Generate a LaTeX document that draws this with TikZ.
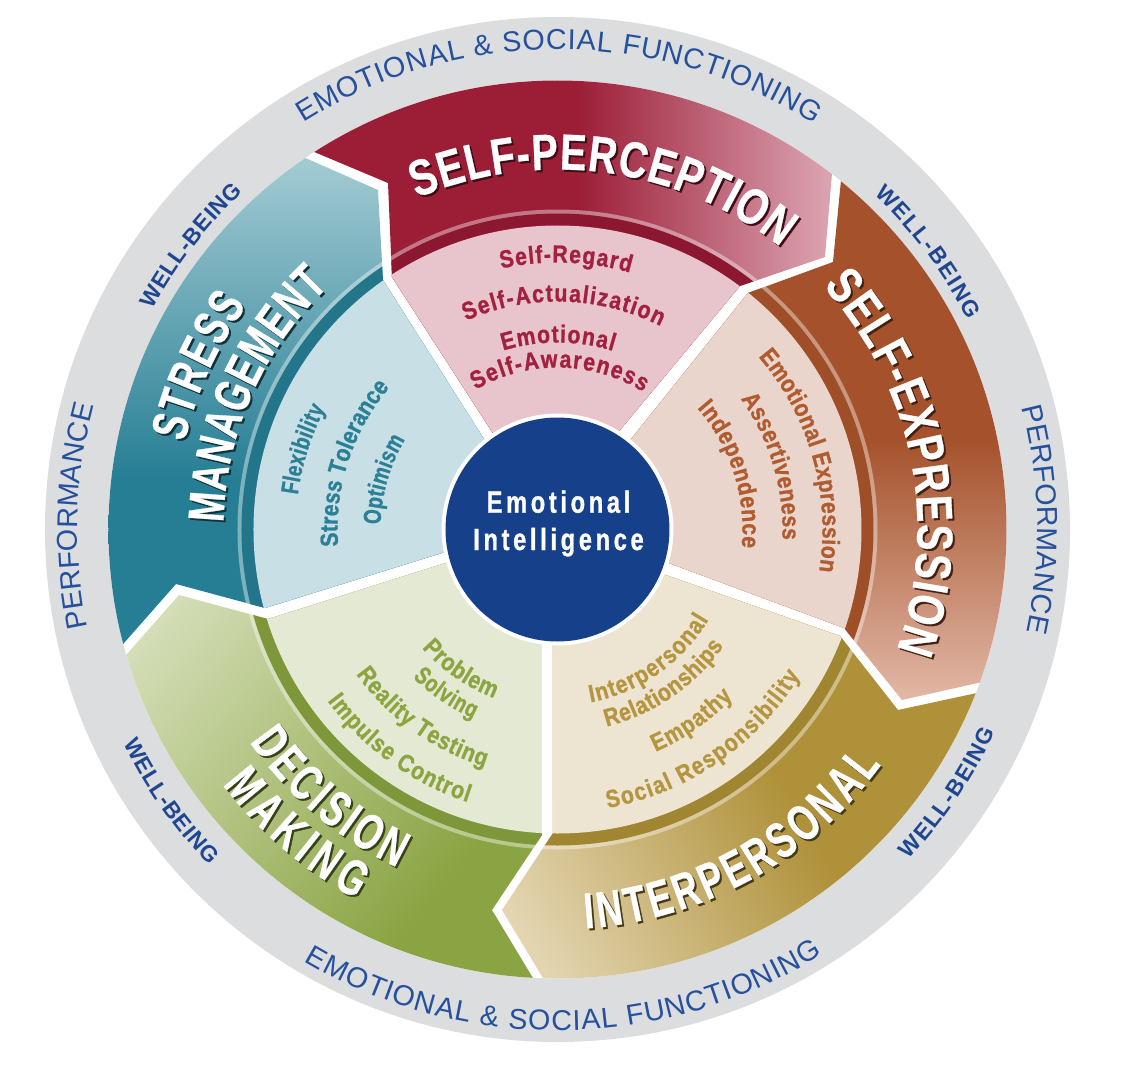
\documentclass[tikz,border=0pt]{standalone}
\usepackage{fontspec}
\usepackage{xcolor}
\usetikzlibrary{decorations.text}
\setmainfont{Liberation Sans}
\newfontfamily\condbold[FakeStretch=0.78,BoldFeatures={FakeBold=0.6}]{Liberation Sans}
\newfontfamily\tightbold[FakeStretch=0.7,BoldFeatures={FakeBold=0.6}]{Liberation Sans}
\newfontfamily\innerbold[FakeStretch=0.86,BoldFeatures={FakeBold=1}]{Liberation Sans}
\newfontfamily\innertight[FakeStretch=0.77,BoldFeatures={FakeBold=1}]{Liberation Sans}
\newcommand{\headfont}{\condbold\bfseries\fontsize{38}{40}\selectfont}
\newcommand{\tightfont}{\tightbold\bfseries\fontsize{38}{40}\selectfont}
\newcommand{\itemfont}{\innerbold\bfseries\fontsize{18.5}{20}\selectfont}
\newcommand{\itemtight}{\innertight\bfseries\fontsize{18.5}{20}\selectfont}
\newcommand{\ringfont}{\fontsize{21.5}{24}\selectfont}
\newcommand{\wellfont}{\bfseries\fontsize{17}{20}\selectfont}

\definecolor{ringgray}{HTML}{DCDDDF}
\definecolor{ringblue}{HTML}{24509E}
\definecolor{wellblue}{HTML}{1F4690}
\definecolor{coreblue}{HTML}{17408B}
\definecolor{percred}{HTML}{9B1D36}
\definecolor{percdark}{HTML}{8C1730}
\definecolor{percpale}{HTML}{E8C4CC}
\definecolor{perclight}{HTML}{DDA7B5}
\definecolor{percitem}{HTML}{A3213F}
\definecolor{exprbrown}{HTML}{A5522C}
\definecolor{exprdark}{HTML}{9E4F27}
\definecolor{exprpale}{HTML}{EAD5CC}
\definecolor{exprlight}{HTML}{E2B8A6}
\definecolor{expritem}{HTML}{B05C30}
\definecolor{interolive}{HTML}{AF9139}
\definecolor{interdark}{HTML}{A08630}
\definecolor{interpale}{HTML}{EDE5D2}
\definecolor{interlight}{HTML}{E3D5B1}
\definecolor{interitem}{HTML}{B5953F}
\definecolor{decigreen}{HTML}{8AA443}
\definecolor{decidark}{HTML}{7F973B}
\definecolor{decipale}{HTML}{E3E9D3}
\definecolor{decilight}{HTML}{D6DFBA}
\definecolor{deciitem}{HTML}{8CA540}
\definecolor{stressteal}{HTML}{267E94}
\definecolor{stressdark}{HTML}{23758A}
\definecolor{stresspale}{HTML}{C8DFE6}
\definecolor{stresslight}{HTML}{A3CBD3}
\definecolor{stressitem}{HTML}{2B8096}

\pgfdeclarehorizontalshading{percshade}{100bp}{color(0bp)=(percred); color(51bp)=(percred); color(65.5bp)=(perclight); color(100bp)=(perclight)}
\pgfdeclareverticalshading{exprshade}{100bp}{color(0bp)=(exprlight); color(40.5bp)=(exprlight); color(55bp)=(exprbrown); color(100bp)=(exprbrown)}
\pgfdeclarehorizontalshading{intershade}{100bp}{color(0bp)=(interlight); color(37bp)=(interlight); color(53.8bp)=(interolive); color(100bp)=(interolive)}
\pgfdeclarehorizontalshading{decishade}{100bp}{color(0bp)=(decigreen); color(42.1bp)=(decigreen); color(64.4bp)=(decilight); color(100bp)=(decilight)}
\pgfdeclareverticalshading{stressshade}{100bp}{color(0bp)=(stressteal); color(52.8bp)=(stressteal); color(70.6bp)=(stresslight); color(100bp)=(stresslight)}

% radius, start angle, end angle, font, colour, text
\newcommand{\arclabel}[6]{\path[decorate,decoration={text along path,text color=#5,text align=fit to path,text={|#4|#6}}] plot[domain=#2:#3,samples=41] (\x:#1);}
% radius, start angle, end angle, font, shadow colour, text: white with a dark copy behind it
\newcommand{\headlabel}[6]{%
  \begin{scope}[shift={(2,-2)}]\arclabel{#1}{#2}{#3}{#4}{#5}{#6}\end{scope}
  \arclabel{#1}{#2}{#3}{#4}{white}{#6}}
% shading, its angle, dark ring colour, pale wedge colour
\newcommand{\sectorfill}[4]{%
  \shade[shading=#1,shading angle=#2] (0,0) circle[radius=449];
  \fill[white,opacity=0.4] (0,0) circle[radius=320];
  \fill[#3] (0,0) circle[radius=316];
  \fill[#4] (0,0) circle[radius=304];}

\begin{document}
\begin{tikzpicture}[x=0.75pt,y=0.75pt]
  \useasboundingbox (-557.5,-542.5) rectangle (564.5,529.5);
  \fill[ringgray] (0,0) circle[radius=512.5];
  \fill[white] (0,0) circle[radius=449];

  % self-perception
  \begin{scope}
    \clip (-257.5,383.5) -- (-169.5,346.5) -- (-165.5,252.5) -- (-37.5,54.5) -- (32.5,63.5) -- (182.5,243.5) -- (267.5,272.5) -- (276.5,379.5) -- (276.5,600) -- (-257.5,600) -- cycle;
    \sectorfill{percshade}{0}{percdark}{percpale}
  \end{scope}
  % self-expression
  \begin{scope}
    \clip (285.5,369.5) -- (275.5,267.5) -- (190.5,236.5) -- (42.5,51.5) -- (62.5,-15.5) -- (286.5,-98.5) -- (344.5,-170.5) -- (442.5,-148.5) -- (700,-148.5) -- (700,369.5) -- cycle;
    \sectorfill{exprshade}{0}{exprdark}{exprpale}
  \end{scope}
  % interpersonal
  \begin{scope}
    \clip (282.5,-106.5) -- (340.5,-180.5) -- (442.5,-158.5) -- (700,-158.5) -- (700,-468.5) -- (-2.5,-468.5) -- (-55.5,-380.5) -- (-4.5,-303.5) -- (-4.5,-60) -- (62.5,-29.5) -- cycle;
    \sectorfill{intershade}{30}{interdark}{interpale}
  \end{scope}
  % decision making
  \begin{scope}
    \clip (-15.5,-60) -- (-15.5,-305.5) -- (-65.5,-380.5) -- (-12.5,-468.5) -- (-700,-468.5) -- (-700,-149.5) -- (-452.5,-149.5) -- (-378.5,-65.5) -- (-289.5,-89.5) -- (-67.5,-19.5) -- cycle;
    \sectorfill{decishade}{140}{decidark}{decipale}
  \end{scope}
  % stress management
  \begin{scope}
    \clip (-47.5,49.5) -- (-174.5,249.5) -- (-179.5,339.5) -- (-272.5,380.5) -- (-700,380.5) -- (-700,-138.5) -- (-455.5,-138.5) -- (-381.5,-54.5) -- (-292.5,-78.5) -- (-67.5,-8.5) -- cycle;
    \sectorfill{stressshade}{0}{stressdark}{stresspale}
  \end{scope}

  % centre
  \fill[white] (0,0) circle[radius=116];
  \fill[coreblue] (0,0) circle[radius=112];
  \node[text=white,align=center,inner sep=0pt,font=\innertight\bfseries\fontsize{23}{28}\selectfont\addfontfeature{LetterSpace=12}] (core) at (1,6) {Emotional\\Intelligence};

  % outer ring
  \arclabel{480}{122}{57.6}{\ringfont}{ringblue}{EMOTIONAL {\&} SOCIAL FUNCTIONING}
  \arclabel{501}{-120.4}{-58}{\ringfont}{ringblue}{EMOTIONAL {\&} SOCIAL FUNCTIONING}
  \arclabel{480}{191.8}{165}{\ringfont}{ringblue}{PERFORMANCE}
  \arclabel{480}{14.7}{-12.3}{\ringfont}{ringblue}{PERFORMANCE}
  \arclabel{461}{46.6}{27}{\wellfont}{wellblue}{WELL-BEING}
  \arclabel{461}{151.5}{133}{\wellfont}{wellblue}{WELL-BEING}
  \arclabel{484}{206.2}{224}{\wellfont}{wellblue}{WELL-BEING}
  \arclabel{482}{-43.2}{-24.8}{\wellfont}{wellblue}{WELL-BEING}

  % headings
  \headlabel{360}{113}{51.7}{\headfont}{black!60!percred}{SELF-PERCEPTION}
  \headlabel{360}{42.5}{-19.5}{\headfont}{black!60!exprbrown}{SELF-EXPRESSION}
  \headlabel{400}{-86}{-36}{\tightfont}{black!60!interolive}{INTERPERSONAL}
  \headlabel{374}{214.6}{244.6}{\tightfont}{black!60!decigreen}{DECISION}
  \headlabel{421}{217.3}{241.4}{\tightfont}{black!60!decigreen}{MAKING}
  \headlabel{383}{166.8}{144.2}{\tightfont}{black!60!stressteal}{STRESS}
  \headlabel{334}{178.8}{133.2}{\tightfont}{black!60!stressteal}{MANAGEMENT}

  % items
  \arclabel{267}{102.2}{74.2}{\itemfont}{percitem}{Self-Regard}
  \arclabel{228}{113.7}{63.1}{\itemfont}{percitem}{Self-Actualization}
  \arclabel{187}{106.9}{72.7}{\itemfont}{percitem}{Emotional}
  \arclabel{162}{120.4}{58}{\itemfont}{percitem}{Self-Awareness}

  \arclabel{265}{40.7}{-9.1}{\itemfont}{expritem}{Emotional Expression}
  \arclabel{225}{35.5}{-2.6}{\itemfont}{expritem}{Assertiveness}
  \arclabel{185}{41}{-5.6}{\itemfont}{expritem}{Independence}

  \arclabel{283}{-79.8}{-31}{\itemfont}{interitem}{Social Responsibility}
  \arclabel{243}{-66.2}{-43.7}{\itemfont}{interitem}{Empathy}
  \arclabel{203}{-76}{-35}{\itemfont}{interitem}{Relationships}
  \arclabel{176}{-79.2}{-30.8}{\itemfont}{interitem}{Interpersonal}

  \arclabel{180}{221.2}{249.4}{\itemfont}{deciitem}{Problem}
  \arclabel{207}{225.6}{246}{\itemtight}{deciitem}{Solving}
  \arclabel{248}{215.7}{253}{\itemfont}{deciitem}{Reality Testing}
  \arclabel{287}{216.7}{251.8}{\itemfont}{deciitem}{Impulse Control}

  \arclabel{262}{172.4}{152.5}{\itemtight}{stressitem}{Flexibility}
  \arclabel{220}{184.4}{139.7}{\itemfont}{stressitem}{Stress Tolerance}
  \arclabel{177}{178.4}{149.4}{\itemtight}{stressitem}{Optimism}
\end{tikzpicture}
\end{document}
